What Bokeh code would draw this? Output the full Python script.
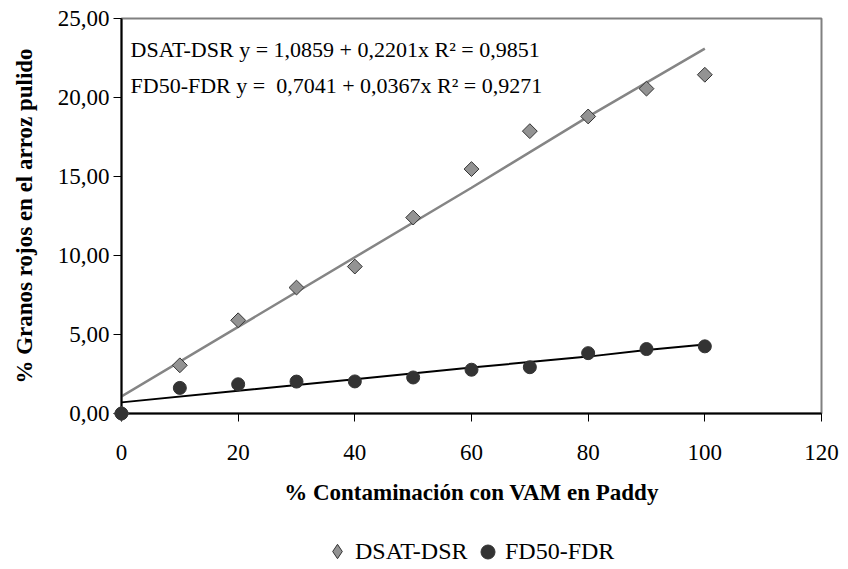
import math
from bokeh.plotting import figure
from bokeh.layouts import column
from bokeh.models import Range1d, FixedTicker, Label, Legend, LegendItem
from bokeh.embed import file_html
from bokeh.resources import INLINE

# ---- data ----
x_vals = [0, 10, 20, 30, 40, 50, 60, 70, 80, 90, 100]
dsat_dsr = [0.0, 3.05, 5.9, 7.97, 9.3, 12.4, 15.47, 17.87, 18.8, 20.56, 21.44]
fd50_fdr = [0.0, 1.62, 1.85, 2.02, 2.03, 2.28, 2.77, 2.93, 3.82, 4.08, 4.25]

# trend lines (as drawn in the reference)
trend_dsat_x = [0, 60, 80, 100]
trend_dsat_y = [1.0859, 14.29, 18.79, 23.0959]
trend_fd50_x = [0, 20, 40, 60, 80, 90, 100]
trend_fd50_y = [0.7041, 1.44, 2.17, 2.91, 3.60, 4.02, 4.37]

series_names = ["DSAT-DSR", "FD50-FDR"]
eq_dsat = "DSAT-DSR y = 1,0859 + 0,2201x R\u00b2 = 0,9851"
eq_fd50 = "FD50-FDR y =\u00a0 0,7041 + 0,0367x R\u00b2 = 0,9271"

x_ticks = [0, 20, 40, 60, 80, 100, 120]
y_ticks = [0, 5, 10, 15, 20, 25]
y_tick_labels = ["0,00", "5,00", "10,00", "15,00", "20,00", "25,00"]

x_title = "% Contaminación con VAM en Paddy"
y_title = "% Granos rojos en el arroz pulido"

FONT = "'Liberation Serif', 'Times New Roman', serif"
DIAMOND_FILL = "#939393"
CIRCLE_FILL = "#333333"

p = figure(frame_width=700, frame_height=395, output_backend="svg", toolbar_location=None,
           x_range=Range1d(0, 120), y_range=Range1d(0, 25),
           min_border_left=121, min_border_right=27, min_border_top=18,
           min_border_bottom=106)
p.grid.visible = False
p.outline_line_color = "#808080"
p.outline_line_width = 2
p.background_fill_color = "white"
p.border_fill_color = "white"

for ax in (p.xaxis[0], p.yaxis[0]):
    ax.axis_line_color = "black"
    ax.axis_line_width = 2
    ax.major_tick_line_color = "black"
    ax.major_tick_line_width = 1
    ax.major_tick_out = 8
    ax.major_tick_in = 0
    ax.minor_tick_out = 0
    ax.minor_tick_in = 0
    ax.major_label_text_font = FONT
    ax.major_label_text_font_size = "23px"
    ax.major_label_text_color = "black"
    ax.axis_label_text_font = FONT
    ax.axis_label_text_font_style = "bold"
    ax.axis_label_text_font_size = "23px"
    ax.axis_label_text_color = "black"

p.xaxis.ticker = FixedTicker(ticks=x_ticks)
p.yaxis.ticker = FixedTicker(ticks=y_ticks)
p.yaxis.major_label_overrides = {t: s for t, s in zip(y_ticks, y_tick_labels)}
p.xaxis.axis_label = x_title
p.yaxis.axis_label = y_title
p.xaxis.major_label_standoff = 23
p.xaxis.axis_label_standoff = 17
p.yaxis.major_label_standoff = 4
p.yaxis.axis_label_standoff = 18

# trend lines
p.line(trend_dsat_x, trend_dsat_y, line_color="#858585", line_width=2.5)
p.line(trend_fd50_x, trend_fd50_y, line_color="black", line_width=2)

# points
p.scatter(x_vals, dsat_dsr, marker="square", angle=math.pi / 4, size=10.5,
          fill_color=DIAMOND_FILL, line_color="#333333", line_width=1, level="overlay")
p.scatter(x_vals, fd50_fdr, marker="circle", size=13, fill_color=CIRCLE_FILL,
          line_color=CIRCLE_FILL, line_width=1, level="overlay")

# equations
for txt, yv in ((eq_dsat, 23.04), (eq_fd50, 20.76)):
    p.add_layout(Label(x=1.55, y=yv, text=txt, text_font=FONT, text_font_size="22px",
                       text_color="black", text_baseline="middle"))

# ---- legend strip below the chart ----
lp = figure(width=848, height=50, output_backend="svg", toolbar_location=None,
            x_range=Range1d(0, 1), y_range=Range1d(0, 1),
            min_border=0, x_axis_location=None, y_axis_location=None)
lp.grid.visible = False
lp.outline_line_color = None
lp_d = lp.scatter(x_vals, dsat_dsr, marker="diamond", size=14, visible=False,
                  fill_color=DIAMOND_FILL, line_color="#333333", line_width=1)
lp_c = lp.scatter(x_vals, fd50_fdr, marker="circle", size=13, visible=False,
                  fill_color=CIRCLE_FILL, line_color=CIRCLE_FILL, line_width=1)

common = dict(orientation="horizontal", label_text_font=FONT, label_text_font_size="24px",
              label_text_color="black", inactive_fill_alpha=0, click_policy="none",
              border_line_color=None, background_fill_alpha=0, margin=0, padding=0)
leg_d = Legend(items=[LegendItem(label=series_names[0], renderers=[lp_d])],
               location=(198, 0), glyph_width=36, glyph_height=36, label_standoff=-5, **common)
leg_c = Legend(items=[LegendItem(label=series_names[1], renderers=[lp_c])],
               location=(349, 0), glyph_width=35, glyph_height=35, label_standoff=-4, **common)
lp.add_layout(leg_d)
lp.add_layout(leg_c)

open("out.html", "w").write(file_html(column(p, lp, spacing=0), INLINE))
